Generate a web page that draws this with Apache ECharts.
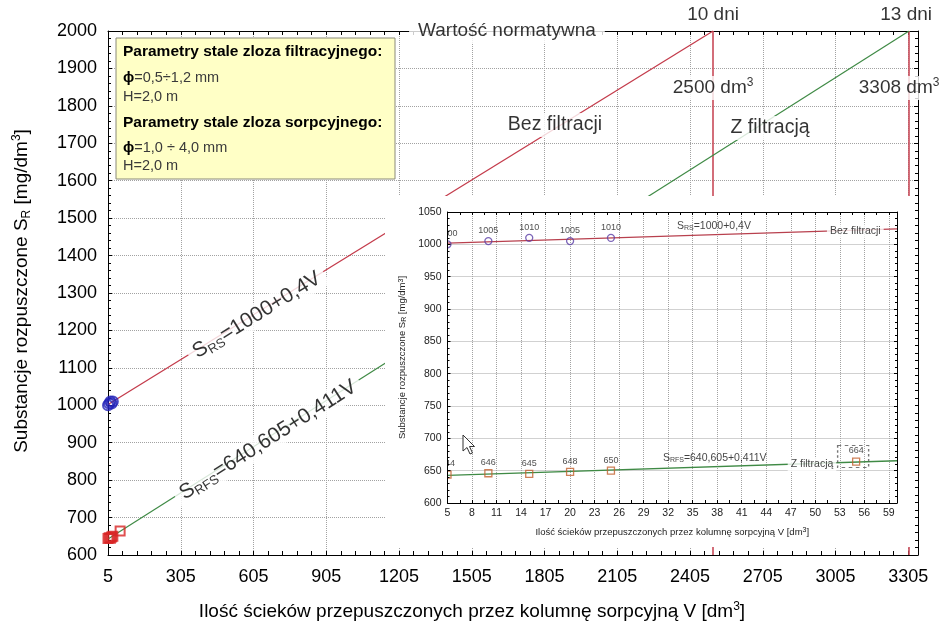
<!DOCTYPE html>
<html>
<head>
<meta charset="utf-8">
<title>Substancje rozpuszczone</title>
<script src="https://cdn.jsdelivr.net/npm/echarts@6/dist/echarts.min.js"></script>
<style>
  html, body { margin: 0; padding: 0; background: #fff; }
  #chart { width: 944px; height: 628px; }
</style>
</head>
<body>
<div id="chart"></div>
<script>
// ---- Measured samples: V [dm3] and S [mg/dm3] ----
const vBez = [5, 10, 15, 20, 25];
const sBez = [1000, 1005, 1010, 1005, 1010];
const vZ = [5, 10, 15, 20, 25, 55];
const sZ = [644, 646, 645, 648, 650, 664];

// ---- Fitted lines, end points (S_RS = 1000+0,4V ; S_RFS = 640,605+0,411V) ----
const bezFitV = [5, 2500];
const bezFitS = [1002, 2000];
const zFitV = [5, 3308];
const zFitS = [642.7, 2000];
const bezFitInsetV = [5, 60];
const bezFitInsetS = [1002, 1024];
const zFitInsetV = [5, 60];
const zFitInsetS = [642.7, 665.3];

// ---- Normative limit ----
const normLevel = 2000;
const normV = [2500, 3308];
const normDays = ['10 dni', '13 dni'];

// ---- Tick labels ----
const mainXLabels = [5, 305, 605, 905, 1205, 1505, 1805, 2105, 2405, 2705, 3005, 3305];
const mainYLabels = [600, 700, 800, 900, 1000, 1100, 1200, 1300, 1400, 1500, 1600, 1700, 1800, 1900, 2000];
const insetXLabels = [5, 8, 11, 14, 17, 20, 23, 26, 29, 32, 35, 38, 41, 44, 47, 50, 53, 56, 59];
const insetYLabels = [600, 650, 700, 750, 800, 850, 900, 950, 1000, 1050];

// minor tick positions between the labelled ones
const mainXMinor = [];
for (let v = 5; v <= 3345; v += 60) mainXMinor.push(v);
const insetXMinor = [];
for (let v = 5; v <= 60; v += 1.5) insetXMinor.push(v);

const pair = (xs, ys) => xs.map((x, i) => [x, ys[i]]);
const plain = v => String(v);

const FONT = '"Liberation Sans", Arial, Helvetica, sans-serif';
const RED = '#c43c4c';
const GREEN = '#3f8a45';

// dotted grid drawn through the axes' own scales
const gridMarks = (xs, ys, z) => ({
  z: z, silent: true, symbol: 'none', label: { show: false }, emphasis: { disabled: true },
  lineStyle: { color: '#a2a2a2', width: 1, type: [1, 1], opacity: 1 },
  data: xs.map(v => ({ xAxis: v })).concat(ys.map(v => ({ yAxis: v })))
});

const bigRich = {
  sub: { fontSize: 13, lineHeight: 13, verticalAlign: 'bottom', fontFamily: FONT, color: '#000' },
  sup: { fontSize: 12, lineHeight: 12, verticalAlign: 'top', fontFamily: FONT, color: '#000' }
};
const smallRich = {
  sub: { fontSize: 7, lineHeight: 7, verticalAlign: 'bottom', fontFamily: FONT, color: '#111' },
  sup: { fontSize: 7, lineHeight: 7, verticalAlign: 'top', fontFamily: FONT, color: '#111' }
};

const frameAxis = (extra) => Object.assign({
  type: 'value',
  axisLine: { show: true, onZero: false, lineStyle: { color: '#000', width: 1 } },
  splitLine: { show: false }
}, extra);

// ---- main axes (grid 0) ----
const mainX = frameAxis({
  gridIndex: 0, position: 'bottom', min: 5, max: 3345, z: 0,
  axisTick: { show: true, inside: true, length: 4, customValues: mainXMinor, lineStyle: { color: '#000' } },
  axisLabel: { show: true, customValues: mainXLabels, formatter: plain, margin: 13, fontSize: 18, color: '#000', fontFamily: FONT }
});
const mainXTop = frameAxis({
  gridIndex: 0, position: 'top', min: 5, max: 3345, z: 0,
  axisTick: { show: true, inside: true, length: 4, customValues: mainXMinor, lineStyle: { color: '#000' } },
  axisLabel: { show: false }
});
const mainY = frameAxis({
  gridIndex: 0, position: 'left', min: 600, max: 2000, interval: 100, z: 0,
  axisTick: { show: true, inside: true, length: 4, lineStyle: { color: '#000' } },
  minorTick: { show: true, splitNumber: 5, length: 3, lineStyle: { color: '#000' } },
  axisLabel: { margin: 11, fontSize: 18, color: '#000', fontFamily: FONT, formatter: plain }
});
const mainYRight = frameAxis({
  gridIndex: 0, position: 'right', min: 600, max: 2000, interval: 100, z: 0,
  axisTick: { show: true, inside: true, length: 4, lineStyle: { color: '#000' } },
  minorTick: { show: true, splitNumber: 5, length: 3, lineStyle: { color: '#000' } },
  axisLabel: { show: false }
});

// ---- inset axes (grid 1) ----
const insetX = frameAxis({
  gridIndex: 1, position: 'bottom', min: 5, max: 60, z: 10,
  axisTick: { show: true, inside: true, length: 3, customValues: insetXMinor, lineStyle: { color: '#000' } },
  axisLabel: { show: true, customValues: insetXLabels, formatter: plain, margin: 5, fontSize: 10.5, color: '#222', fontFamily: FONT },
  name: 'Ilość ścieków przepuszczonych przez kolumnę sorpcyjną V [dm{sup|3}]',
  nameLocation: 'middle', nameGap: 24,
  nameTextStyle: { fontSize: 9.5, color: '#222', fontFamily: FONT, rich: smallRich }
});
const insetXTop = frameAxis({
  gridIndex: 1, position: 'top', min: 5, max: 60, z: 10,
  axisTick: { show: true, inside: true, length: 3, customValues: insetXMinor, lineStyle: { color: '#000' } },
  axisLabel: { show: false }
});
const insetY = frameAxis({
  gridIndex: 1, position: 'left', min: 600, max: 1050, interval: 50, z: 10,
  axisTick: { show: true, inside: true, length: 3, lineStyle: { color: '#000' } },
  minorTick: { show: true, splitNumber: 5, length: 2, lineStyle: { color: '#000' } },
  axisLabel: { margin: 6, fontSize: 10.5, color: '#222', fontFamily: FONT, formatter: plain },
  name: 'Substancje rozpuszczone S{sub|R} [mg/dm{sup|3}]',
  nameLocation: 'middle', nameGap: 40, nameRotate: 90,
  nameTextStyle: { fontSize: 9.5, color: '#222', fontFamily: FONT, rich: smallRich }
});
const insetYRight = frameAxis({
  gridIndex: 1, position: 'right', min: 600, max: 1050, interval: 50, z: 10,
  axisTick: { show: true, inside: true, length: 3, lineStyle: { color: '#000' } },
  minorTick: { show: true, splitNumber: 5, length: 2, lineStyle: { color: '#000' } },
  axisLabel: { show: false }
});

// text annotations placed in data coordinates
const mainNoteLabel = {
  show: true, position: 'inside', fontSize: 19, color: '#000', fontFamily: FONT,
  backgroundColor: '#fff', padding: [1, 4], lineHeight: 22, rich: bigRich
};
const mainNotes = [
  { value: [619, 1241], label: { formatter: 'S{sub|RS}=1000+0,4V', rotate: 31.7, fontSize: 21, lineHeight: 24, padding: [0, 6] } },
  { value: [665, 907], label: { formatter: 'S{sub|RFS}=640,605+0,411V', rotate: 32.4, fontSize: 21, lineHeight: 24, padding: [0, 6] } },
  { value: [1848, 1749], label: { formatter: 'Bez filtracji', fontSize: 19.5 } },
  { value: [2735, 1741], label: { formatter: 'Z filtracją', fontSize: 19.5 } },
  { value: [1650, normLevel], label: { formatter: 'Wartość normatywna', padding: [1, 9] } },
  { value: [normV[0], 1848], label: { formatter: normV[0] + ' dm{sup|3}' } },
  { value: [normV[1] - 41, 1848], label: { formatter: normV[1] + ' dm{sup|3}' } },
  { value: [normV[0], normLevel], label: { formatter: normDays[0], position: 'top', distance: 4, backgroundColor: 'transparent' } },
  { value: [normV[1] - 12, normLevel], label: { formatter: normDays[1], position: 'top', distance: 4, backgroundColor: 'transparent' } }
];

const insetNoteLabel = {
  show: true, position: 'inside', fontSize: 10.5, color: '#111', fontFamily: FONT,
  backgroundColor: '#fff', padding: [1, 3], lineHeight: 12, rich: smallRich
};
const insetNotes = [
  { value: [37.6, 1028.4], label: { formatter: 'S{sub|RS}=1000+0,4V', backgroundColor: 'transparent' } },
  { value: [54.9, 1020], label: { formatter: 'Bez filtracji' } },
  { value: [37.7, 669.6], label: { formatter: 'S{sub|RFS}=640,605+0,411V', backgroundColor: 'transparent' } },
  { value: [49.6, 660.3], label: { formatter: 'Z filtracją' } }
];

const pointLabel = { show: true, position: 'top', distance: 2, fontSize: 9, color: '#222', fontFamily: FONT, formatter: p => String(p.value[1]) };

const series = [
  // ---- main chart ----
  {
    name: 'Bez filtracji', type: 'line', xAxisIndex: 0, yAxisIndex: 0, z: 1,
    data: pair(bezFitV, bezFitS), showSymbol: false, symbol: 'none',
    lineStyle: { color: RED, width: 1.3 }, silent: true,
    markLine: {
      z: 1, silent: true, symbol: 'none', label: { show: false },
      lineStyle: { color: '#c84a58', width: 1.6, type: 'solid' },
      data: normV.map(v => ({ xAxis: v }))
    }
  },
  {
    name: 'Z filtracją', type: 'line', xAxisIndex: 0, yAxisIndex: 0, z: 1,
    data: pair(zFitV, zFitS), showSymbol: false, symbol: 'none',
    lineStyle: { color: GREEN, width: 1.2 }, silent: true,
    markLine: gridMarks(mainXLabels.slice(1), mainYLabels.slice(1, -1), 0)
  },
  {
    name: 'Bez filtracji – pomiary', type: 'scatter', xAxisIndex: 0, yAxisIndex: 0, z: 1,
    data: pair(vBez, sBez), symbol: 'circle', symbolSize: 10, clip: false,
    itemStyle: { color: 'rgba(255,255,255,0)', borderColor: '#2323b8', borderWidth: 2 }
  },
  {
    name: 'Z filtracją – pomiary', type: 'scatter', xAxisIndex: 0, yAxisIndex: 0, z: 1,
    data: pair(vZ, sZ), symbol: 'rect', symbolSize: 9, clip: false,
    itemStyle: { color: 'rgba(255,255,255,0)', borderColor: '#d82424', borderWidth: 2 }
  },
  {
    name: 'opisy', type: 'scatter', xAxisIndex: 0, yAxisIndex: 0, z: 2, clip: false,
    symbol: 'circle', symbolSize: 0, itemStyle: { color: 'rgba(0,0,0,0)' },
    label: mainNoteLabel, data: mainNotes, silent: true
  },
  // ---- inset chart ----
  {
    name: 'Bez filtracji (5–60)', type: 'line', xAxisIndex: 2, yAxisIndex: 2, z: 7,
    data: pair(bezFitInsetV, bezFitInsetS), showSymbol: false, symbol: 'none',
    lineStyle: { color: '#b8404e', width: 1.3 }, silent: true
  },
  {
    name: 'Z filtracją (5–60)', type: 'line', xAxisIndex: 2, yAxisIndex: 2, z: 7,
    data: pair(zFitInsetV, zFitInsetS), showSymbol: false, symbol: 'none',
    lineStyle: { color: GREEN, width: 1.3 }, silent: true,
    markLine: gridMarks(insetXLabels.slice(1), insetYLabels.slice(1, -1), 6)
  },
  {
    name: 'Bez filtracji – pomiary (5–60)', type: 'scatter', xAxisIndex: 2, yAxisIndex: 2, z: 7,
    data: pair(vBez, sBez), symbol: 'circle', symbolSize: 7, clip: false,
    itemStyle: { color: 'rgba(255,255,255,0)', borderColor: '#5b3ea6', borderWidth: 1.3 },
    label: pointLabel
  },
  {
    name: 'Z filtracją – pomiary (5–60)', type: 'scatter', xAxisIndex: 2, yAxisIndex: 2, z: 7,
    data: pair(vZ, sZ), symbol: 'rect', symbolSize: 7, clip: false,
    itemStyle: { color: 'rgba(255,255,255,0)', borderColor: '#c2602e', borderWidth: 1.3 },
    label: pointLabel
  },
  {
    // dashed frame around the last filtered sample
    name: 'wyróżnienie', type: 'scatter', xAxisIndex: 2, yAxisIndex: 2, z: 7,
    data: [[vZ[5], sZ[5]]], symbol: 'rect', symbolSize: [31, 22], symbolOffset: [-3, -5],
    itemStyle: { color: 'rgba(255,255,255,0)', borderColor: '#555', borderWidth: 1.2, borderType: [3, 3] },
    silent: true
  },
  {
    name: 'opisy (5–60)', type: 'scatter', xAxisIndex: 2, yAxisIndex: 2, z: 8, clip: false,
    symbol: 'circle', symbolSize: 0, itemStyle: { color: 'rgba(0,0,0,0)' },
    label: insetNoteLabel, data: insetNotes, silent: true
  }
];

const legendLines = [
  { text: 'Parametry stale zloza filtracyjnego:', y: 52, bold: true },
  { text: '{phi|ϕ}=0,5÷1,2 mm', y: 78 },
  { text: 'H=2,0 m', y: 97 },
  { text: 'Parametry stale zloza sorpcyjnego:', y: 123, bold: true },
  { text: '{phi|ϕ}=1,0 ÷ 4,0 mm', y: 148 },
  { text: 'H=2,0 m', y: 166 }
];

const graphic = [
  // white panel carrying the zoomed-in chart
  { type: 'rect', z: 5, silent: true, shape: { x: 385, y: 196, width: 530, height: 351 }, style: { fill: '#fff' } },
  // hides what spills left of the inset plot frame
  { type: 'rect', z: 9, silent: true, shape: { x: 386, y: 200, width: 61, height: 300 }, style: { fill: '#fff' } },
  // mouse pointer
  {
    type: 'polygon', z: 11, silent: true,
    shape: { points: [[463, 435], [463, 451], [467, 447.5], [470, 454], [472.5, 453], [469.5, 446.5], [474.5, 446.5]] },
    style: { fill: '#fff', stroke: '#333', lineWidth: 1 }
  },
  // parameter box
  { type: 'rect', z: 3, silent: true, shape: { x: 116, y: 38, width: 279, height: 141 }, style: { fill: '#ffffc6', stroke: '#8a8a7a', lineWidth: 1 } },
  ...legendLines.map(l => ({
    type: 'text', z: 4, silent: true, x: 123, y: l.y,
    style: {
      text: l.text, align: 'left', verticalAlign: 'middle',
      fontFamily: FONT, fontSize: l.bold ? 15.5 : 14.5, fontWeight: l.bold ? 'bold' : 'normal',
      fill: l.bold ? '#000' : '#3a3a3a',
      rich: { phi: { fontFamily: FONT, fontSize: 15, fontWeight: 'bold', fill: '#000' } }
    }
  })),
  // axis titles
  {
    type: 'text', z: 4, silent: true, x: 472, y: 612,
    style: {
      text: 'Ilość ścieków przepuszczonych przez kolumnę sorpcyjną V [dm{sup|3}]',
      align: 'center', verticalAlign: 'middle', fontFamily: FONT, fontSize: 19, fill: '#000', lineHeight: 22,
      rich: { sup: { fontFamily: FONT, fontSize: 12, lineHeight: 12, verticalAlign: 'top', fill: '#000' } }
    }
  },
  {
    type: 'text', z: 4, silent: true, x: 22, y: 291, rotation: Math.PI / 2,
    style: {
      text: 'Substancje rozpuszczone S{sub|R} [mg/dm{sup|3}]',
      align: 'center', verticalAlign: 'middle', fontFamily: FONT, fontSize: 19, fill: '#000', lineHeight: 22,
      rich: {
        sub: { fontFamily: FONT, fontSize: 12, lineHeight: 12, verticalAlign: 'bottom', fill: '#000' },
        sup: { fontFamily: FONT, fontSize: 12, lineHeight: 12, verticalAlign: 'top', fill: '#000' }
      }
    }
  }
];

const chart = echarts.init(document.getElementById('chart'), null, { renderer: 'canvas' });
chart.setOption({
  animation: false,
  backgroundColor: '#fff',
  textStyle: { fontFamily: FONT },
  grid: [
    { left: 108, top: 31, right: 26, bottom: 73 },
    { left: 447.5, top: 212, right: 47, bottom: 125 }
  ],
  xAxis: [mainX, mainXTop, insetX, insetXTop],
  yAxis: [mainY, mainYRight, insetY, insetYRight],
  series: series,
  graphic: graphic
});
</script>
</body>
</html>
